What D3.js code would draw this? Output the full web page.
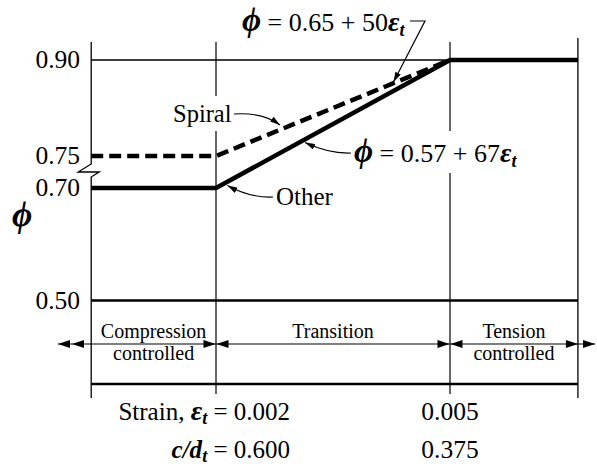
<!DOCTYPE html>
<html>
<head>
<meta charset="utf-8">
<script src="https://cdn.jsdelivr.net/npm/d3@7"></script>
<style>
  html, body { margin: 0; padding: 0; background: #fff; }
  svg { display: block; }
  text { font-family: "Liberation Serif", "Times New Roman", serif; fill: #000; }
</style>
</head>
<body>
<script>
// Strength reduction factor phi versus net tensile strain
const strainTicks = [0.002, 0.005];
const strainLabels = ["0.002", "0.005"];
const cdLabels = ["0.600", "0.375"];
const phiTicks = [0.90, 0.75, 0.70, 0.50];
const phiTickLabels = ["0.90", "0.75", "0.70", "0.50"];
const strainMin = 0.0004;
const strainMax = 0.00664;
const otherStrain = [strainMin, 0.002, 0.005, strainMax];
const otherPhi = [0.70, 0.70, 0.90, 0.90];
const spiralStrain = [strainMin, 0.002, 0.005];
const spiralPhi = [0.75, 0.75, 0.90];
const zoneLines = [["Compression", "controlled"], ["Transition"], ["Tension", "controlled"]];
const zoneBounds = [strainMin, 0.002, 0.005, strainMax];

const W = 597, H = 467;
const svg = d3.select("body").append("svg").attr("width", W).attr("height", H);

const x = d3.scaleLinear().domain([0.002, 0.005]).range([216, 450]);
// broken axis: the lower part (below 0.70) is compressed
const y = d3.scaleLinear().domain([0.5, 0.7, 0.9]).range([300.5, 188, 60]);

const x0 = x(strainMin), x1 = x(strainMax);
const yTop = 42, yBand = 344, yBottom = 384;

// arrowhead marker for leaders
const defs = svg.append("defs");
defs.append("marker").attr("id", "lead").attr("viewBox", "0 0 10 6")
  .attr("refX", 10).attr("refY", 3).attr("markerWidth", 10).attr("markerHeight", 6)
  .attr("markerUnits", "userSpaceOnUse").attr("orient", "auto")
  .append("path").attr("d", "M0,0 L10,3 L0,6 Z").attr("fill", "#000");

const grid = svg.append("g").attr("stroke", "#000").attr("fill", "none");

// vertical boundaries
grid.append("path").attr("stroke-width", 1.3)
  .attr("d", `M${x0},${yTop} V${y(0.725) - 8} L${x0 - 13},${y(0.725)} L${x0 + 8},${y(0.725)} L${x0},${y(0.725) + 5} V398`);
[0.002, 0.005].forEach(s => {
  grid.append("line").attr("x1", x(s)).attr("x2", x(s)).attr("y1", yTop).attr("y2", 394).attr("stroke-width", 1.2);
});
grid.append("line").attr("x1", x1).attr("x2", x1).attr("y1", 38).attr("y2", 398).attr("stroke-width", 1.3);

// horizontal reference lines
grid.append("line").attr("x1", x0).attr("x2", x1).attr("y1", y(0.9)).attr("y2", y(0.9)).attr("stroke-width", 1.5);
grid.append("line").attr("x1", x0).attr("x2", x1).attr("y1", y(0.5)).attr("y2", y(0.5)).attr("stroke-width", 2.5);
grid.append("line").attr("x1", x0).attr("x2", x1).attr("y1", yBottom).attr("y2", yBottom).attr("stroke-width", 2.5);

// phi curves
const line = d3.line().x(d => x(d[0])).y(d => y(d[1]));
svg.append("path").datum(d3.zip(otherStrain, otherPhi)).attr("d", line)
  .attr("fill", "none").attr("stroke", "#000").attr("stroke-width", 4.5);
svg.append("path").datum(d3.zip(spiralStrain, spiralPhi)).attr("d", line)
  .attr("fill", "none").attr("stroke", "#000").attr("stroke-width", 4.5)
  .attr("stroke-dasharray", "12,6");

// y tick labels
svg.append("g").selectAll("text").data(phiTicks).join("text")
  .attr("x", 80).attr("y", d => y(d) + 8).attr("text-anchor", "end")
  .attr("font-size", 25.5).text((d, i) => phiTickLabels[i]);

// y axis symbol
svg.append("text").attr("x", 12).attr("y", 226).attr("font-size", 35)
  .attr("font-weight", "bold").attr("font-style", "italic").text("ϕ");

// equation helper
function equation(g, px, py, rest, coef) {
  const t = g.append("text").attr("x", px).attr("y", py).attr("font-size", 26);
  t.append("tspan").attr("font-size", 33).attr("font-weight", "bold").attr("font-style", "italic").text("ϕ");
  t.append("tspan").text(" = " + rest + " + " + coef);
  t.append("tspan").attr("font-weight", "bold").attr("font-style", "italic").attr("font-size", 28).text("ε");
  t.append("tspan").attr("font-weight", "bold").attr("font-style", "italic").attr("font-size", 18).attr("dy", 5).text("t");
  return t;
}
function whiteBehind(g, node, pad) {
  const b = node.node().getBBox();
  g.insert("rect", ":first-child").attr("x", b.x - pad).attr("y", b.y - pad)
    .attr("width", b.width + 2 * pad).attr("height", b.height + 2 * pad).attr("fill", "#fff");
}

const ann = svg.append("g");
// spiral equation
equation(ann, 242, 31, "0.65", "50");
ann.append("path").attr("d", "M410,21 H425 L393.5,82").attr("fill", "none").attr("stroke", "#000")
  .attr("stroke-width", 1.2).attr("marker-end", "url(#lead)");

// spiral label
const gSp = svg.append("g");
const tSp = gSp.append("text").attr("x", 173).attr("y", 122).attr("font-size", 24.5).text("Spiral");
whiteBehind(gSp, tSp, 4);
svg.append("path").attr("d", "M234,114 Q262,112 280,125").attr("fill", "none").attr("stroke", "#000")
  .attr("stroke-width", 1.2).attr("marker-end", "url(#lead)");

// other equation
const gEq = svg.append("g");
const tEq = equation(gEq, 354, 162, "0.57", "67");
whiteBehind(gEq, tEq, 2);
svg.append("path").attr("d", "M351,153 Q330,154 305,142.5").attr("fill", "none").attr("stroke", "#000")
  .attr("stroke-width", 1.2).attr("marker-end", "url(#lead)");

// other label
svg.append("text").attr("x", 276).attr("y", 205).attr("font-size", 25).text("Other");
svg.append("path").attr("d", "M273,197 Q250,198 227.5,185.5").attr("fill", "none").attr("stroke", "#000")
  .attr("stroke-width", 1.2).attr("marker-end", "url(#lead)");

// zone band with dimension arrows
const band = svg.append("g");
band.append("line").attr("x1", 58).attr("x2", 595).attr("y1", yBand).attr("y2", yBand)
  .attr("stroke", "#000").attr("stroke-width", 1.2);
function head(tipX, dir) {
  const L = 12, hw = 4;
  band.append("path").attr("fill", "#000")
    .attr("d", `M${tipX},${yBand} L${tipX - dir * L},${yBand - hw} L${tipX - dir * L},${yBand + hw} Z`);
}
head(58, -1); head(72, -1);
zoneBounds.slice(1, 3).forEach(s => { head(x(s) - 0.5, 1); head(x(s) + 0.5, -1); });
head(x1, 1); head(595, 1);

zoneLines.forEach((lines, i) => {
  const cx = (x(zoneBounds[i]) + x(zoneBounds[i + 1])) / 2;
  lines.forEach((s, j) => {
    band.append("text").attr("x", cx).attr("y", 338 + 22 * j).attr("text-anchor", "middle")
      .attr("font-size", 20).text(s);
  });
});

// strain and c/dt rows
const rowStrain = svg.append("text").attr("x", 290).attr("y", 420).attr("text-anchor", "end").attr("font-size", 25);
rowStrain.append("tspan").text("Strain, ");
rowStrain.append("tspan").attr("font-weight", "bold").attr("font-style", "italic").attr("font-size", 28).text("ε");
rowStrain.append("tspan").attr("font-weight", "bold").attr("font-style", "italic").attr("font-size", 18).attr("dy", 4).text("t");
rowStrain.append("tspan").attr("dy", -4).text(" = " + strainLabels[0]);

const rowCd = svg.append("text").attr("x", 290).attr("y", 458).attr("text-anchor", "end").attr("font-size", 25);
rowCd.append("tspan").attr("font-weight", "bold").attr("font-style", "italic").text("c/d");
rowCd.append("tspan").attr("font-weight", "bold").attr("font-style", "italic").attr("font-size", 18).attr("dy", 4).text("t");
rowCd.append("tspan").attr("dy", -4).text(" = " + cdLabels[0]);

svg.append("text").attr("x", x(strainTicks[1])).attr("y", 420).attr("text-anchor", "middle").attr("font-size", 25.5).text(strainLabels[1]);
svg.append("text").attr("x", x(strainTicks[1])).attr("y", 458).attr("text-anchor", "middle").attr("font-size", 25.5).text(cdLabels[1]);
</script>
</body>
</html>
